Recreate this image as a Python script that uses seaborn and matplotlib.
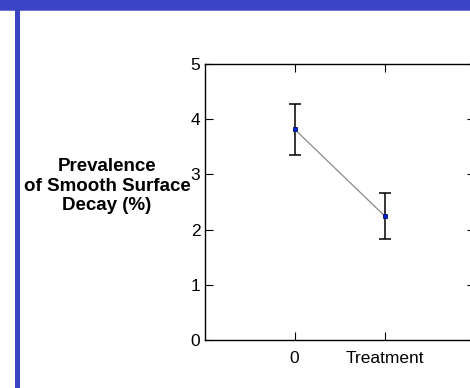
import matplotlib
matplotlib.use("Agg")
import matplotlib.pyplot as plt
import seaborn as sns
import pandas as pd
import numpy as np
from matplotlib.patches import Rectangle

categories = ["0", "Treatment"]
means = [3.82, 2.25]
errors = [0.46, 0.42]
y_ticks = [0, 1, 2, 3, 4, 5]

sns.set_theme(style="white")
plt.rcParams['font.family'] = ['Liberation Sans', 'DejaVu Sans']

df = pd.DataFrame({"group": categories, "mean": means, "err": errors})
df["pos"] = np.arange(len(df))

fig = plt.figure(figsize=(4.70, 3.88), dpi=100)
fig.patch.set_facecolor("white")

# decorative slide frame
fig.add_artist(Rectangle((0, 1 - 10/388), 1, 10/388, transform=fig.transFigure,
                         facecolor="#3b44c4", edgecolor="none", zorder=0))
fig.add_artist(Rectangle((0, 1 - 11/388), 1, 1/388, transform=fig.transFigure,
                         facecolor="#6d74d6", edgecolor="none", zorder=0))
fig.add_artist(Rectangle((15/470, 0), 5/470, 1 - 10/388, transform=fig.transFigure,
                         facecolor="#3b44c4", edgecolor="none", zorder=0))

ax = fig.add_axes([204.5/470, 48/388, 270/470, 276/388])
ax.set_facecolor("white")

sns.lineplot(data=df, x="pos", y="mean", ax=ax, color="#8a8a8a", linewidth=0.9,
             zorder=2, legend=False)
ax.errorbar(df["pos"], df["mean"], yerr=df["err"], fmt="none", ecolor="black",
            elinewidth=1.1, capsize=4, capthick=1.1, zorder=3)
ax.plot(df["pos"], df["mean"], linestyle="none", marker="s", markersize=3.5,
        markerfacecolor="#0022dd", markeredgecolor="#001166", markeredgewidth=0.6,
        zorder=4)

ax.set_xlim(-1, 2)
ax.set_ylim(0, 5)
ax.set_xticks(df["pos"])
ax.set_xticklabels(categories)
ax.set_yticks(y_ticks)
ax.set_yticklabels([str(t) for t in y_ticks])
ax.set_xlabel("")
ax.set_ylabel("")

for s in ax.spines.values():
    s.set_color("black")
    s.set_linewidth(1.0)
    s.set_visible(True)

ax.tick_params(axis="both", which="major", direction="in", length=6, width=0.8,
               color="black", labelsize=12.5, labelcolor="black",
               top=True, right=True, bottom=True, left=True)
ax.tick_params(axis="x", pad=8)
ax.tick_params(axis="y", pad=3)

fig.text(107/470, 1 - 186/388, "Prevalence\nof Smooth Surface\nDecay (%)",
         ha="center", va="center", fontsize=13.5, fontweight="bold",
         linespacing=1.2, color="black")

fig.savefig("out.png", dpi=100, facecolor="white")
